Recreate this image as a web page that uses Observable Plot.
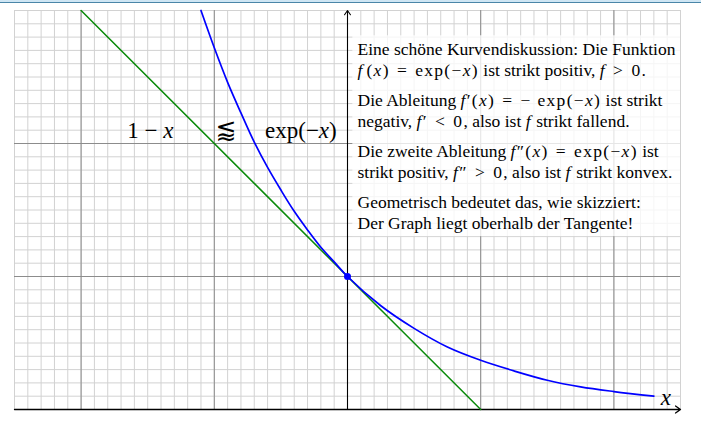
<!DOCTYPE html>
<html><head><meta charset="utf-8">
<script src="https://cdn.jsdelivr.net/npm/d3@7"></script>
<script src="https://cdn.jsdelivr.net/npm/@observablehq/plot@0.6"></script>
<style>
body{margin:0;background:#fff;}
#wrap{position:relative;width:701px;height:421px;}
#topbar{position:absolute;left:0;top:0;width:701px;height:2px;background:#cfe6f4;border-bottom:1px solid #4a86a8;}
</style></head><body>
<div id="wrap"><div id="topbar"></div></div>
<script>
// Curve exp(-x), points
const expX = [-1.1, -1.0, -0.9, -0.8, -0.7, -0.6, -0.5, -0.4, -0.3, -0.2, -0.1, 0, 0.25, 0.5, 0.75, 1.0, 1.25, 1.5, 1.75, 2.0, 2.3];
const expY = [3.0, 2.72, 2.46, 2.23, 2.01, 1.82, 1.65, 1.49, 1.35, 1.22, 1.11, 1.0, 0.78, 0.61, 0.47, 0.37, 0.29, 0.22, 0.17, 0.135, 0.10];
// Tangent 1 - x
const tangentX = [-2, 1];
const tangentY = [3, 0];
// Touch point
const pointX = [0];
const pointY = [1];
// Curve labels
const labelText = ["1 − _x_", "exp(−_x_)", "_x_"];
const labelX = [-1.48, -0.35, 2.39];
const labelY = [2.1, 2.1, 0.09];
const relationText = ["⪅"];
const relationX = [-0.91];
const relationY = [2.1];
// Explanation text ($...$ = formula, _..._ = italic variable)
const noteLines = [
  "Eine schöne Kurvendiskussion: Die Funktion",
  "$_f_\u200A(_x_)\u2004=\u2004exp(−_x_)$ ist strikt positiv, $_f_\u2004>\u20040$.",
  "Die Ableitung $_f_′(_x_)\u2004=\u2004− exp(−_x_)$ ist strikt",
  "negativ, $_f_′\u2004<\u20040$, also ist $_f_$ strikt fallend.",
  "Die zweite Ableitung $_f_″(_x_)\u2004=\u2004exp(−_x_)$ ist",
  "strikt positiv, $_f_″\u2004>\u20040$, also ist $_f_$ strikt konvex.",
  "Geometrisch bedeutet das, wie skizziert:",
  "Der Graph liegt oberhalb der Tangente!"
];
const noteParagraph = [0, 0, 1, 1, 2, 2, 3, 3];

const expData = expX.map((x, i) => ({x, y: expY[i]}));
const tangentData = tangentX.map((x, i) => ({x, y: tangentY[i]}));
const pointData = pointX.map((x, i) => ({x, y: pointY[i]}));
const labels = labelText.map((t, i) => ({t, x: labelX[i], y: labelY[i]}));
const relation = relationText.map((t, i) => ({t, x: relationX[i], y: relationY[i]}));
const notes = noteLines.map((t, i) => ({t, p: noteParagraph[i], k: i % 2}));

const minorX = d3.range(-25, 26).map(i => i / 10);
const minorY = d3.range(0, 31).map(i => i / 10);
const majorX = [-2, -1, 1, 2];
const majorY = [1, 2];

const pxPerUnit = 133;
const yFromPx = p => (409 - p) / pxPerUnit;

const chart = Plot.plot({
  width: 701,
  height: 421,
  marginLeft: 14,
  marginRight: 21,
  marginTop: 10,
  marginBottom: 12,
  x: {domain: [-2.5, 2.5], axis: null},
  y: {domain: [0, 3], axis: null},
  style: {background: "white", fontFamily: "'Liberation Serif', serif"},
  marks: [
    Plot.ruleX(minorX, {y1: 0, y2: 3, stroke: "#d2d2d2", strokeWidth: 1}),
    Plot.ruleY(minorY, {x1: -2.5, x2: 2.5, stroke: "#d2d2d2", strokeWidth: 1}),
    Plot.ruleX(majorX, {y1: 0, y2: 3, stroke: "#8c8c8c", strokeWidth: 1}),
    Plot.ruleY(majorY, {x1: -2.5, x2: 2.5, stroke: "#8c8c8c", strokeWidth: 1}),
    Plot.rect([0], {x1: 0.04, x2: 2.5, y1: 1.3, y2: 2.81, fill: "white", fillOpacity: 0.78}),
    Plot.arrow([0], {x1: -2.5, y1: 0, x2: 2.5, y2: 0, stroke: "black", strokeWidth: 1.3, headLength: 7, headAngle: 70, bend: 0}),
    Plot.arrow([0], {x1: 0, y1: 0, x2: 0, y2: 3, stroke: "black", strokeWidth: 1.1, headLength: 7, headAngle: 70, bend: 0}),
    Plot.line(tangentData, {x: "x", y: "y", stroke: "#0a8a0a", strokeWidth: 1.5}),
    Plot.line(expData, {x: "x", y: "y", stroke: "#0000ff", strokeWidth: 1.7, curve: "catmull-rom"}),
    Plot.dot(pointData, {x: "x", y: "y", r: 3.5, fill: "#0000ff"}),
    Plot.text(labels, {x: "x", y: "y", text: "t", fontSize: 23, fill: "black", textAnchor: "middle", lineAnchor: "middle"}),
    Plot.text(relation, {x: "x", y: "y", text: "t", fontSize: 25, fontFamily: "'DejaVu Sans', 'DejaVu Serif', sans-serif", fill: "black", textAnchor: "middle", lineAnchor: "middle"}),
    Plot.text(notes, {
      x: 0.075,
      y: d => yFromPx(49 + 51 * d.p + 21 * d.k),
      text: "t", fontSize: 17.5, fill: "black", textAnchor: "start", lineAnchor: "middle"
    })
  ]
});

// Formula segments ($...$) get slightly wider spacing; _..._ segments are italic
function addItalic(parent, s) {
  s.split("_").forEach((part, j) => {
    if (!part) return;
    const ts = parent.append("tspan").text(part);
    if (j % 2 === 1) ts.attr("font-style", "italic");
  });
}
d3.select(chart).selectAll("text").each(function() {
  const el = d3.select(this);
  const tspans = el.selectAll("tspan");
  const targets = tspans.size() ? tspans.nodes() : [this];
  for (const node of targets) {
    const txt = node.textContent;
    if (!txt.includes("_") && !txt.includes("$")) continue;
    node.textContent = "";
    const sel = d3.select(node);
    txt.split("$").forEach((seg, i) => {
      if (!seg) return;
      if (i % 2 === 1) {
        const m = sel.append("tspan").attr("letter-spacing", "1.3px");
        addItalic(m, seg);
      } else {
        addItalic(sel, seg);
      }
    });
  }
});

document.getElementById("wrap").prepend(chart);
</script>
</body></html>
